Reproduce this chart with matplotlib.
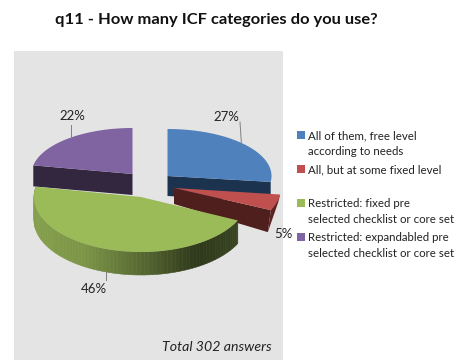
import matplotlib
matplotlib.use('Agg')
import matplotlib.pyplot as plt
from matplotlib.colors import to_rgb
from matplotlib.patches import Polygon, Rectangle
import numpy as np

plt.rcParams['font.family'] = ['Lato', 'DejaVu Sans']

title = 'q11 - How many ICF categories do you use?'
labels = ['All of them, free level\naccording to needs',
          'All, but at some fixed level',
          'Restricted: fixed pre\nselected checklist or core set',
          'Restricted: expandabled pre\nselected checklist or core set']
values = [27, 5, 46, 22]
note = 'Total 302 answers'

top_colors = ['#4f81bd', '#c0504d', '#9bbb59', '#8064a2']
side_colors = ['#1c3350', '#4f1f1e', '#8aa650', '#33263f']

# per slice layout in pixels: apex x, apex y, x radius, y radius, depth
layout = [(167.5, 176, 104, 47, 20),
          (174, 188, 107, 52, 16),
          (141, 197, 107, 55, 23),
          (132.5, 174, 101, 46, 21)]
# label position and leader line for each slice
label_pos = [(226, 117), (283, 234), (94, 289), (72, 116)]
leaders = [((240, 122), (241.5, 145)), None, ((105.5, 272), (105.5, 280)), ((71, 125), (71, 138))]

fig = plt.figure(figsize=(4.55, 3.6), dpi=100)
ax = fig.add_axes([0, 0, 1, 1])
ax.set_xlim(0, 455)
ax.set_ylim(360, 0)
ax.axis('off')

ax.add_patch(Rectangle((14, 51), 269, 309, fc='#e4e4e4', ec='none', zorder=0))


def rim(theta, geom):
    cx, cy, rx, ry, _ = geom
    return cx + rx * np.sin(theta), cy - ry * np.cos(theta)


def mix(col, k):
    return tuple(c * k for c in to_rgb(col))


# slice angles run clockwise from twelve o'clock
fracs = np.array(values) / sum(values)
edges = np.concatenate([[0], np.cumsum(fracs)]) * 2 * np.pi

# back slices first so the big green one sits on top
order = [3, 0, 1, 2]
for z, i in enumerate(order):
    geom = layout[i]
    cx, cy, rx, ry, depth = geom
    t = np.linspace(edges[i], edges[i + 1], 80)
    x, y = rim(t, geom)
    zb = 2 + z * 3

    # flat cut faces
    if i == 0:
        ax.add_patch(Polygon([(cx, cy), (x[-1], y[-1]), (x[-1], y[-1] + depth), (cx, cy + depth)],
                             fc=side_colors[i], ec='none', zorder=zb))
    elif i == 3:
        ax.add_patch(Polygon([(cx, cy), (x[0], y[0]), (x[0], y[0] + depth), (cx, cy + depth)],
                             fc=side_colors[i], ec='none', zorder=zb))
    elif i == 1:
        ax.add_patch(Polygon([(cx, cy), (x[-1], y[-1]), (x[-1] - 3, y[-1] + depth + 6), (cx, cy + depth)],
                             fc=side_colors[i], ec='none', zorder=zb))
        ax.add_patch(Polygon([(x[0], y[0]), (x[-1], y[-1]), (x[-1] - 3, y[-1] + depth + 6), (x[0] - 2, y[0] + 8)],
                             fc='#5b2422', ec='none', zorder=zb))
    else:
        # outer wall of the green slice, shaded left to right in thin strips
        stops = np.array([0.0, 0.25, 0.55, 0.8, 1.0])
        shades = [0.85, 0.80, 0.55, 0.30, 0.36]
        for k in range(len(t) - 1):
            u = (x[k] - x.min()) / (x.max() - x.min())
            shade = np.interp(u, stops, shades)
            ax.add_patch(Polygon([(x[k], y[k]), (x[k + 1], y[k + 1]),
                                  (x[k + 1], y[k + 1] + depth), (x[k], y[k] + depth)],
                                 fc=mix(top_colors[i], shade), ec=mix(top_colors[i], shade),
                                 lw=0.4, zorder=zb))

    ax.add_patch(Polygon(np.column_stack([np.r_[cx, x], np.r_[cy, y]]),
                         fc=top_colors[i], ec='none', zorder=zb + 1))

    if leaders[i] is not None:
        (x0, y0), (x1, y1) = leaders[i]
        ax.plot([x0, x1], [y0, y1], color='#808080', lw=0.7, zorder=20)
    ax.text(*label_pos[i], f'{values[i]}%', fontsize=9.5, color='#222222',
            ha='center', va='center', zorder=21)

ax.text(216, 20, title, fontsize=11.85, fontweight='bold', color='#111111', ha='center', va='center')
ax.text(272, 347, note, fontsize=10.2, style='italic', color='#222222', ha='right', va='center')

# legend
legend_y = [135, 169, 203, 237]
for lab, col, ly in zip(labels, top_colors, legend_y):
    ax.add_patch(Rectangle((297, ly - 4), 8, 8, fc=col, ec='none', zorder=5))
    ax.text(307.5, ly - 5, lab, fontsize=8.3, color='#222222', ha='left', va='top', linespacing=1.52)

fig.savefig('out.png', dpi=100)
